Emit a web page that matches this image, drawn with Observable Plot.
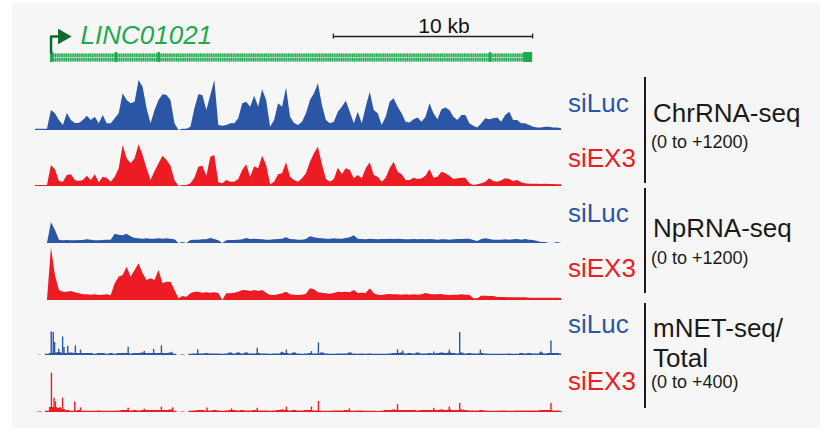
<!DOCTYPE html>
<html><head><meta charset="utf-8">
<script src="https://cdn.jsdelivr.net/npm/d3@7"></script>
<script src="https://cdn.jsdelivr.net/npm/@observablehq/plot@0.6"></script>
<style>
body{margin:0;background:#fff;font-family:"Liberation Sans",Arial,sans-serif;}
#fig{position:relative;width:820px;height:428px;overflow:hidden;background:#fff;}
#panel{position:absolute;left:12px;top:3px;width:808px;height:425px;background:#f6f6f6;}
#fig svg{position:absolute;left:0;}
</style></head><body><div id="fig"><div id="panel"></div></div>
<script>
// ---- region / gene annotation (kb) ----
const regionKb = 26.4;
const binKb = 0.2;
const geneName = "LINC01021";
const geneStartKb = 0.78, geneEndKb = 24.95;
const exonsKb = [[0.76,0.92],[4.0,4.13],[6.14,6.27],[22.78,22.9],[24.5,24.95]];
const scaleBarKb = [14.95, 24.95];
const scaleBarLabel = "10 kb";

// ---- coverage, 0.2 kb bins ----
const chrLuc = [30,30,30,30,480,400,240,120,410,240,
170,170,240,340,240,320,160,360,160,160,
280,400,880,720,640,680,1200,1040,520,160,
480,720,860,840,720,160,0,30,30,80,
520,860,840,480,840,1200,120,100,120,160,
160,280,640,680,560,820,560,980,720,80,
240,640,560,1020,320,170,120,200,400,720,
880,1120,600,240,160,200,440,560,700,440,
160,440,160,560,920,480,400,120,320,680,
760,560,400,200,180,260,300,200,320,640,
400,260,500,540,480,320,240,360,360,160,
100,60,160,280,260,280,300,200,360,440,
240,240,160,160,120,80,60,60,80,80,
60,60,40];
const chrEx3 = [24,24,24,24,504,400,120,104,264,280,
144,120,144,248,144,280,88,224,200,104,
224,424,984,664,544,664,1000,744,424,144,
360,544,728,624,488,144,0,24,24,64,
200,464,488,248,704,744,88,64,144,104,
104,168,384,520,224,472,424,728,504,40,
104,280,304,568,224,144,104,184,304,584,
784,944,520,168,104,168,440,280,424,384,
184,264,184,424,568,264,224,104,200,424,
584,344,280,144,144,200,168,184,248,408,
200,224,344,304,248,168,184,200,200,64,
24,40,64,104,184,120,104,136,184,168,
120,144,88,64,56,56,56,48,56,48,
48,40,40];
const npLuc = [0,0,0,0,496,320,80,64,72,64,
64,72,72,88,80,64,64,72,80,80,
224,200,184,224,160,120,112,104,112,104,
104,112,104,112,104,88,0,24,0,72,
80,80,88,88,120,96,64,0,64,72,
72,80,88,120,96,104,96,88,80,80,
88,96,104,136,96,88,80,80,96,160,
136,120,112,104,104,112,104,104,120,136,
184,104,96,88,104,96,88,96,96,104,
96,104,96,88,88,96,88,96,88,96,
88,80,88,88,80,88,96,96,104,104,
72,48,96,112,96,80,80,80,88,80,
88,96,80,96,80,72,48,24,24,0,
0,24,0];
const npEx3 = [0,0,0,0,1264,600,240,200,200,216,
184,160,136,136,128,136,120,128,136,120,
400,560,600,800,560,720,880,640,480,520,
480,720,400,440,440,240,40,96,80,160,
200,200,176,184,176,184,168,0,160,160,
176,200,240,232,216,240,216,240,176,120,
120,136,160,200,136,128,120,128,152,280,
256,184,176,160,152,168,200,192,200,184,
240,168,176,168,280,160,128,120,136,144,
136,136,128,136,128,136,128,136,168,144,
136,136,144,128,120,128,128,136,128,128,
40,40,104,104,96,96,72,72,72,64,
64,64,64,64,56,56,56,56,56,56,
56,56,48];
const mnetLucBase = [0,3,0,10,16,20,24,16,16,20,
16,16,16,16,16,10,16,16,10,16,
10,16,16,16,12,16,16,20,16,16,
16,16,16,16,20,10,0,5,0,10,
12,12,12,16,12,12,12,10,12,20,
12,20,12,20,12,12,16,12,12,10,
12,12,20,16,12,20,12,10,12,16,
12,12,20,12,10,10,12,12,12,20,
12,10,12,10,12,10,10,10,10,12,
16,16,20,12,16,12,20,12,12,16,
12,16,20,16,20,16,12,20,12,16,
12,12,16,12,10,10,10,10,10,12,
10,10,16,12,16,12,12,20,12,16,
16,16,12];
const mnetLucPeaks = [[0.79,189],[0.89,184],[0.96,104],[1.17,51],[1.36,149],[1.43,64],[1.62,75],[2.0,77],[2.26,43],[4.65,64],[5.46,32],[5.93,48],[6.32,77],[6.84,27],[8.14,45],[11.13,59],[12.38,27],[12.59,43],[13.85,32],[14.2,101],[18.17,45],[18.43,37],[19.99,29],[20.77,43],[21.29,184],[22.33,43],[25.36,29],[25.87,117]];
const mnetEx3Base = [0,5,0,10,40,40,32,24,16,10,
10,16,10,10,10,10,12,10,10,10,
10,12,16,16,12,16,12,16,16,16,
16,16,16,16,20,10,0,5,0,10,
12,16,16,12,12,16,12,10,12,16,
16,12,16,12,12,16,12,12,12,10,
12,16,20,16,12,16,12,12,16,16,
12,12,10,10,10,12,12,12,16,12,
10,12,12,10,10,10,8,10,16,16,
20,16,16,16,16,16,12,16,16,16,
16,16,20,16,20,16,16,20,16,12,
12,12,16,12,10,10,10,12,12,10,
10,12,12,12,12,12,12,16,16,16,
12,12,10];
const mnetEx3Peaks = [[0.80,315],[0.93,115],[1.0,85],[1.22,40],[1.36,115],[1.97,85],[2.26,37],[4.65,35],[5.46,27],[6.32,43],[6.88,37],[8.61,37],[9.84,29],[11.13,35],[12.59,43],[13.85,45],[14.2,88],[15.75,29],[18.17,64],[19.99,35],[20.77,45],[21.29,72],[25.87,72]];

// ---- labels ----
const conditions = ["siLuc", "siEX3"];
const assays = [["ChrRNA-seq"], ["NpRNA-seq"], ["mNET-seq/", "Total"]];
const ranges = ["(0 to +1200)", "(0 to +1200)", "(0 to +400)"];

const BLUE = "#2a56a5", RED = "#ed1c24", GREEN = "#1ea84f", DKGREEN = "#0e6a2e";
const fig = document.getElementById("fig");
const FONT = '"Liberation Sans", Arial, sans-serif';
const common = {width: 820, marginLeft: 35, marginRight: 259, x: {domain: [0, regionKb], axis: null}};

// gene panel
{
  const laneGene = 13, laneArrow = 34, laneBar = 34;
  const g = Plot.plot({
    ...common, height: 70, marginTop: 0, marginBottom: 0,
    y: {domain: [0, 70], axis: null},
    style: {background: "transparent", overflow: "visible", fontFamily: FONT},
    marks: [
      Plot.ruleY([laneGene], {x1: geneStartKb, x2: geneEndKb, stroke: "#7fd09c", strokeWidth: 8}),
      Plot.ruleY([laneGene], {x1: geneStartKb, x2: geneEndKb, stroke: "#1a9f4a", strokeWidth: 8, strokeDasharray: "1 1.2"}),
      Plot.ruleY([laneGene], {x1: geneStartKb, x2: geneEndKb, stroke: "#9fe0b5", strokeWidth: 1}),
      Plot.rect(exonsKb, {x1: d => d[0], x2: d => d[1], y1: laneGene - 5, y2: laneGene + 5, fill: GREEN}),
      Plot.line([[geneStartKb, laneGene + 5], [geneStartKb, laneArrow], [1.3, laneArrow]], {stroke: DKGREEN, strokeWidth: 2.5}),
      Plot.dot([[1.36, laneArrow]], {symbol: "triangle", rotate: 90, r: 5.8, fill: DKGREEN, stroke: null}),
      Plot.text([geneName], {x: 2.26, y: 27, text: d => d, textAnchor: "start", lineAnchor: "bottom", fontSize: 26, fontStyle: "italic", fill: GREEN}),
      Plot.ruleY([laneBar], {x1: scaleBarKb[0], x2: scaleBarKb[1], stroke: "#222", strokeWidth: 1.3}),
      Plot.ruleX(scaleBarKb, {y1: laneBar - 2.5, y2: laneBar + 2.5, stroke: "#222", strokeWidth: 1.3}),
      Plot.text([scaleBarLabel], {x: 20.5, y: 38, text: d => d, lineAnchor: "bottom", fontSize: 21, fill: "#111"})
    ]
  });
  g.style.top = "0px";
  fig.append(g);
}

function track(values, peaks, max, color, top) {
  const data = values.map((v, i) => ({kb: i * binKb, v}));
  const marks = [Plot.areaY(data, {x: "kb", y: "v", fill: color, curve: peaks ? "step" : "linear"})];
  if (peaks) marks.push(Plot.ruleX(peaks, {x: d => d[0], y1: 0, y2: d => d[1], stroke: color, strokeWidth: 1.4}));
  const p = Plot.plot({
    ...common, height: 54, marginTop: 4, marginBottom: 0,
    y: {domain: [0, max], axis: null},
    style: {background: "transparent", overflow: "visible"},
    marks
  });
  p.style.top = top + "px";
  fig.append(p);
}
track(chrLuc, null, 1200, BLUE, 76);
track(chrEx3, null, 1200, RED, 132);
track(npLuc, null, 1200, BLUE, 189);
track(npEx3, null, 1200, RED, 246);
track(mnetLucBase, mnetLucPeaks, 400, BLUE, 301);
track(mnetEx3Base, mnetEx3Peaks, 400, RED, 358);

// right-hand labels
const svg = d3.select(fig).append("svg").attr("width", 820).attr("height", 428)
  .style("top", "0px").style("font-family", FONT);
const groups = [
  {luc: 112, ex3: 167, line: [77, 183], assay: [122], range: 148},
  {luc: 222, ex3: 277, line: [188, 293], assay: [237], range: 264},
  {luc: 333, ex3: 390, line: [303, 408], assay: [337, 367], range: 388}
];
groups.forEach((g, k) => {
  svg.append("text").attr("x", 568).attr("y", g.luc).attr("font-size", 26).attr("fill", BLUE).text(conditions[0]);
  svg.append("text").attr("x", 568).attr("y", g.ex3).attr("font-size", 26).attr("fill", RED).text(conditions[1]);
  svg.append("line").attr("x1", 645).attr("x2", 645).attr("y1", g.line[0]).attr("y2", g.line[1]).attr("stroke", "#1a1a1a").attr("stroke-width", 2);
  assays[k].forEach((t, j) => svg.append("text").attr("x", 653).attr("y", g.assay[j]).attr("font-size", 26).attr("fill", "#1a1a1a").text(t));
  svg.append("text").attr("x", 651).attr("y", g.range).attr("font-size", 18).attr("fill", "#1a1a1a").text(ranges[k]);
});
</script></body></html>
